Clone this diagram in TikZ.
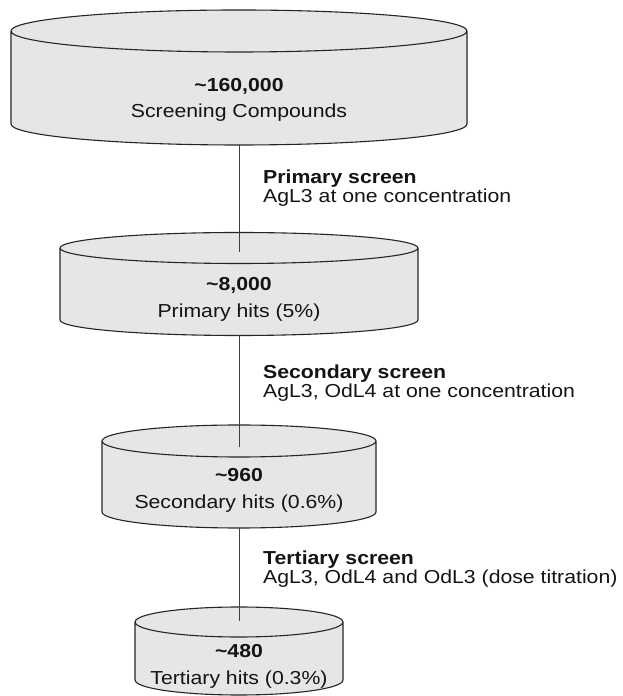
\documentclass[tikz,border=0pt]{standalone}
\usepackage{fontspec}
\setmainfont{Liberation Sans}[FakeStretch=1.13]

\definecolor{drumfill}{HTML}{E6E6E6}
\definecolor{drumline}{HTML}{262626}
\definecolor{linkline}{HTML}{404040}
\definecolor{inkcol}{HTML}{141414}

% A drum (cylinder seen from slightly above):
% #1 centre x, #2 half width, #3 y of top ellipse centre,
% #4 y of bottom ellipse centre, #5 vertical radius of the ellipses
\newcommand\drum[5]{%
  \fill[drumfill] (#1-#2,#3) -- (#1-#2,#4)
    arc[start angle=180,end angle=360,x radius=#2,y radius=#5]
    -- (#1+#2,#3)
    arc[start angle=0,end angle=180,x radius=#2,y radius=#5] -- cycle;
  \draw[drumedge] (#1-#2,#3) -- (#1-#2,#4)
    arc[start angle=180,end angle=360,x radius=#2,y radius=#5]
    -- (#1+#2,#3)
    arc[start angle=0,end angle=360,x radius=#2,y radius=#5];
}

\tikzset{
  drumedge/.style={draw=drumline,line width=1.1pt,line join=round},
  link/.style={draw=linkline,line width=1pt},
  drumtext/.style={align=center,inner sep=0pt,text=inkcol,
    font=\fontsize{18.8}{26.5}\selectfont},
  note/.style={align=left,inner sep=0pt,anchor=west,text=inkcol,
    font=\fontsize{18.8}{19}\selectfont},
}

\begin{document}
\begin{tikzpicture}[x=1pt,y=1pt]
  \useasboundingbox (0,0) rectangle (622,696);
  \fill[white] (0,0) rectangle (622,696);

  % the four stages, widest on top
  \drum{239}{228}{665}{572}{21}
  \drum{239}{179}{448}{376}{15.5}
  \drum{239}{137}{255}{184}{16}
  \drum{239}{104}{74}{16}{15}

  \node[drumtext] (all) at (239,596)
    {\textbf{\textasciitilde 160,000}\\Screening Compounds};
  \node[drumtext] (prim) at (239,396.5)
    {\textbf{\textasciitilde 8,000}\\Primary hits (5\%)};
  \node[drumtext] (sec) at (239,205.5)
    {\textbf{\textasciitilde 960}\\Secondary hits (0.6\%)};
  \node[drumtext] (tert) at (239,29.5)
    {\textbf{\textasciitilde 480}\\Tertiary hits (0.3\%)};

  % ends of the links: bottom rim of one drum, inside the lid of the next
  \coordinate (allbot)  at (239,551);
  \coordinate (primtop) at (239,444);
  \coordinate (primbot) at (239,360.5);
  \coordinate (sectop)  at (239,249);
  \coordinate (secbot)  at (239,168);
  \coordinate (terttop) at (239,75);

  \draw[link] (allbot) -- (primtop);
  \draw[link] (primbot) -- (sectop);
  \draw[link] (secbot) -- (terttop);

  \node[note] (scr1) at (263,508)
    {\textbf{Primary screen}\\AgL3 at one concentration};
  \node[note] (scr2) at (263,313)
    {\textbf{Secondary screen}\\AgL3, OdL4 at one concentration};
  \node[note] (scr3) at (263,127)
    {\textbf{Tertiary screen}\\AgL3, OdL4 and OdL3 (dose titration)};
\end{tikzpicture}
\end{document}
